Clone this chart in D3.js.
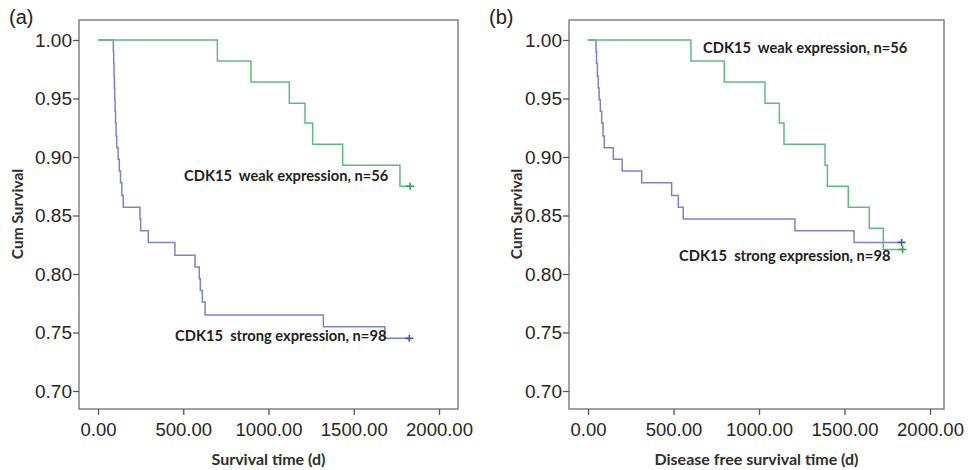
<!DOCTYPE html>
<html>
<head>
<meta charset="utf-8">
<script src="https://cdn.jsdelivr.net/npm/d3@7"></script>
<style>
  body { margin: 0; background: #fff; }
  .tick text { font-family: "Liberation Sans", Arial, sans-serif; fill: #262626; }
  .lab { font-family: Lato, "Open Sans", sans-serif; font-weight: 700; fill: #1e1e1e; white-space: pre; }
  .ttl { font-family: Lato, "Open Sans", sans-serif; font-weight: 700; fill: #2e2e2e; }
</style>
</head>
<body>
<script>
let width = 970
let height = 470

// axis ticks
let xTicks = [0, 500, 1000, 1500, 2000]
let yTicks = [0.70, 0.75, 0.80, 0.85, 0.90, 0.95, 1.00]

// (a) overall survival, event times (days) and survival after each event
let osWeakTime = [700, 897, 1122, 1214, 1259, 1435, 1771]
let osWeakSurv = [0.982, 0.964, 0.946, 0.929, 0.911, 0.893, 0.875]
let osWeakCensor = 1830
let osStrongTime = [90, 92, 94, 96, 98, 100, 103, 106, 110, 118, 125, 132, 140, 148,
    246, 250, 295, 451, 569, 594, 600, 612, 628, 1322, 1683]
let osStrongSurv = [0.990, 0.980, 0.969, 0.959, 0.949, 0.939, 0.929, 0.918, 0.908, 0.898,
    0.888, 0.878, 0.867, 0.857, 0.847, 0.837, 0.827, 0.816, 0.806, 0.796, 0.786, 0.776,
    0.765, 0.755, 0.745]
let osStrongCensor = 1826

// (b) disease free survival
let dfsWeakTime = [602, 797, 1035, 1119, 1146, 1386, 1400, 1522, 1645, 1727]
let dfsWeakSurv = [0.982, 0.964, 0.946, 0.929, 0.911, 0.893, 0.875, 0.857, 0.839, 0.821]
let dfsWeakCensor = 1840
let dfsStrongTime = [47, 50, 55, 60, 65, 72, 80, 88, 95, 148, 200, 314, 489, 528, 557, 1210, 1556]
let dfsStrongSurv = [0.990, 0.980, 0.969, 0.959, 0.949, 0.939, 0.929, 0.918, 0.908, 0.898,
    0.888, 0.878, 0.867, 0.857, 0.847, 0.837, 0.827]
let dfsStrongCensor = 1834

let weakLabel = "CDK15  weak expression, n=56"
let strongLabel = "CDK15  strong expression, n=98"

let green = "#5fbc7e"
let blue = "#7b85c3"

let panels = [
    {tag: "(a)", tagX: 9, fl: 79, fr: 458, x0: 98, x1: 439, xTitle: "Survival time (d)", yTitleX: 23,
     weak: [osWeakTime, osWeakSurv, osWeakCensor], strong: [osStrongTime, osStrongSurv, osStrongCensor],
     weakPos: [184, 181], strongPos: [175, 341]},
    {tag: "(b)", tagX: 489, fl: 569, fr: 944, x0: 588, x1: 930, xTitle: "Disease free survival time (d)", yTitleX: 522,
     weak: [dfsWeakTime, dfsWeakSurv, dfsWeakCensor], strong: [dfsStrongTime, dfsStrongSurv, dfsStrongCensor],
     weakPos: [703, 53], strongPos: [679, 261]}
]

let svg = d3.select("body")
    .append("svg")
    .attr("width", width)
    .attr("height", height)

let frameTop = 20, frameBottom = 409

let y = d3.scaleLinear()
    .domain([0.70, 1.00])
    .range([391, 40])

panels.forEach(function(p) {
    let g = svg.append("g")

    let x = d3.scaleLinear()
        .domain([0, 2000])
        .range([p.x0, p.x1])

    g.append("rect")
        .attr("x", p.fl)
        .attr("y", frameTop)
        .attr("width", p.fr - p.fl)
        .attr("height", frameBottom - frameTop)
        .attr("fill", "none")
        .attr("stroke", "#7a7a7a")
        .attr("stroke-width", 1.4)

    let ya = g.append("g")
        .attr("transform", `translate(${p.fl},0)`)
        .call(d3.axisLeft(y).tickValues(yTicks).tickFormat(d3.format(".2f")).tickSize(6).tickPadding(1))
    ya.select(".domain").remove()
    ya.selectAll("line").attr("stroke", "#555").attr("stroke-width", 1.3)
    ya.selectAll("text").style("font-size", "19px")

    let xa = g.append("g")
        .attr("transform", `translate(0,${frameBottom})`)
        .call(d3.axisBottom(x).tickValues(xTicks).tickFormat(d3.format(".2f")).tickSize(6).tickPadding(8))
    xa.select(".domain").remove()
    xa.selectAll("line").attr("stroke", "#555").attr("stroke-width", 1.3)
    xa.selectAll("text").style("font-size", "18.5px")

    let line = d3.line()
        .x(d => x(d[0]))
        .y(d => y(d[1]))
        .curve(d3.curveStepAfter)

    function curve(s, color, mark) {
        let pts = [[0, 1]]
        s[0].forEach((t, i) => pts.push([t, s[1][i]]))
        let last = s[1][s[1].length - 1]
        pts.push([s[2], last])
        g.append("path")
            .attr("d", line(pts))
            .attr("fill", "none")
            .attr("stroke", color)
            .attr("stroke-width", 1.5)
        // censor "+"
        let cx = x(s[2]), cy = y(last)
        g.append("path")
            .attr("d", `M${cx - 4},${cy}H${cx + 4}M${cx},${cy - 3.5}V${cy + 3.5}`)
            .attr("stroke", mark)
            .attr("stroke-width", 1.6)
    }
    curve(p.strong, blue, "#3f56b0")
    curve(p.weak, green, "#22a84a")

    g.append("text").attr("class", "lab")
        .attr("x", p.weakPos[0]).attr("y", p.weakPos[1])
        .style("font-size", "14.7px")
        .text(weakLabel)
    g.append("text").attr("class", "lab")
        .attr("x", p.strongPos[0]).attr("y", p.strongPos[1])
        .style("font-size", "14.7px")
        .text(strongLabel)

    g.append("text").attr("class", "ttl")
        .attr("x", (p.fl + p.fr) / 2).attr("y", 465)
        .attr("text-anchor", "middle")
        .style("font-size", "16px")
        .text(p.xTitle)

    g.append("text").attr("class", "ttl")
        .attr("transform", `translate(${p.yTitleX},214) rotate(-90)`)
        .attr("text-anchor", "middle")
        .style("font-size", "15.5px")
        .text("Cum Survival")

    g.append("text")
        .attr("x", p.tagX).attr("y", 24)
        .style("font-family", "'Liberation Sans', Arial, sans-serif")
        .style("font-size", "20px")
        .attr("fill", "#222")
        .text(p.tag)
})
</script>
</body>
</html>
